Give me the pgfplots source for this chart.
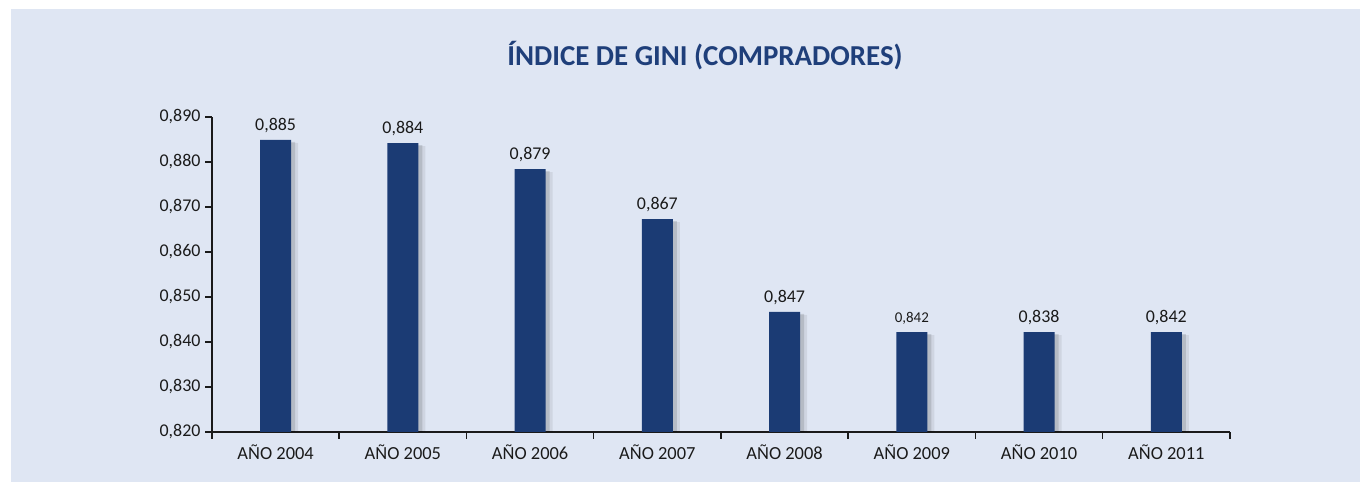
\documentclass[border=0pt]{standalone}
\usepackage{pgfplots}
\pgfplotsset{compat=1.18}
\usepackage{fontspec}
\setmainfont{Carlito}
\definecolor{panel}{HTML}{DFE6F3}
\definecolor{barblue}{HTML}{1B3B74}
\definecolor{titleblue}{HTML}{1F3F7A}
\definecolor{txt}{HTML}{1A1A1A}
\begin{document}
\begin{tikzpicture}[x=1bp,y=1bp]
\fill[white] (0,0) rectangle (1360,482);
\fill[panel] (11,0) rectangle (1360,473);
\node[font=\fontsize{29}{33}\selectfont\bfseries, text=titleblue, anchor=base] at (705,416) {ÍNDICE DE GINI (COMPRADORES)};
\begin{axis}[
  at={(212bp,50bp)}, anchor=south west,
  scale only axis, width=1018bp, height=315bp,
  xmin=-0.5, xmax=7.5, ymin=0.82, ymax=0.89,
  axis x line*=bottom, axis y line*=left,
  axis line style={line width=2bp, color=txt},
  xtick={0,...,7},
  xticklabels={AÑO 2004,AÑO 2005,AÑO 2006,AÑO 2007,AÑO 2008,AÑO 2009,AÑO 2010,AÑO 2011},
  minor xtick={-0.5,0.5,...,7.5},
  major x tick style={draw=none},
  minor x tick style={line width=1.5bp, color=txt},
  minor tick length=7bp,
  ytick={0.82,0.83,...,0.891},
  y tick style={line width=1.5bp, color=txt},
  major tick length=7bp,
  tick align=outside,
  /pgf/number format/fixed, /pgf/number format/fixed zerofill, /pgf/number format/precision=3, /pgf/number format/use comma, /pgf/number format/assume math mode=true,
  xticklabel style={font=\fontsize{18.5}{22}\selectfont, text=txt, yshift=-2bp},
  yticklabel style={font=\fontsize{18}{22}\selectfont, text=txt, xshift=-1bp},
  bar width=31bp,
  clip=true,
]
\addplot[ybar, draw=none, fill=black, fill opacity=0.07, bar shift=7bp, yshift=-3bp] coordinates {
(0,0.8849) (1,0.8842) (2,0.8784) (3,0.8673) (4,0.8467) (5,0.8422) (6,0.8422) (7,0.8422)};
\addplot[ybar, draw=none, fill=black, fill opacity=0.12, bar shift=4bp, yshift=-2bp] coordinates {
(0,0.8849) (1,0.8842) (2,0.8784) (3,0.8673) (4,0.8467) (5,0.8422) (6,0.8422) (7,0.8422)};
\addplot[ybar, draw=none, fill=barblue,
  point meta=explicit symbolic,
  nodes near coords,
  nodes near coords style={font=\fontsize{18}{22}\selectfont, text=txt, anchor=south, inner sep=2bp, yshift=5bp}]
coordinates {
(0,0.8849) [0,885]
(1,0.8842) [0,884]
(2,0.8784) [0,879]
(3,0.8673) [0,867]
(4,0.8467) [0,847]
(5,0.8422) [{\fontsize{15}{18}\selectfont 0,842}]
(6,0.8422) [0,838]
(7,0.8422) [0,842]
};
\end{axis}
\end{tikzpicture}
\end{document}
